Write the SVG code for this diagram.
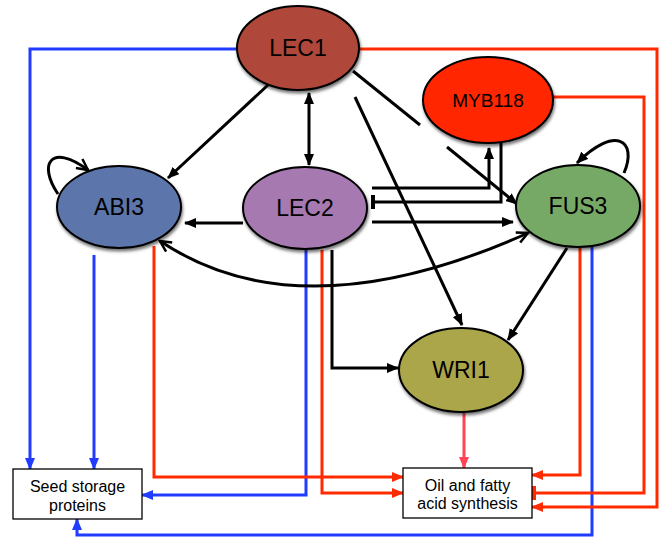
<svg xmlns="http://www.w3.org/2000/svg" width="665" height="537" viewBox="0 0 665 537">
<style>
.k{fill:none;stroke:#000;stroke-width:3}
.b{fill:none;stroke:#1f3cff;stroke-width:3}
.r{fill:none;stroke:#ff2a00;stroke-width:3}
.p{fill:none;stroke:#ff4455;stroke-width:3}
.node{stroke:#000;stroke-width:2;filter:url(#sh)}
.nt{font-family:"Liberation Sans",Arial,sans-serif;font-size:23px;text-anchor:middle;fill:#000}
.bx{fill:#fff;stroke:#000;stroke-width:1.3}
.bt{font-family:"Liberation Sans",Arial,sans-serif;font-size:16px;text-anchor:middle;fill:#000}
</style>
<defs>
<filter id="sh" x="-20%" y="-20%" width="140%" height="150%">
<feDropShadow dx="1" dy="2.5" stdDeviation="1.5" flood-color="#000" flood-opacity="0.55"/>
</filter>
<marker id="ak" viewBox="0 0 12 10" refX="11" refY="5" markerWidth="12" markerHeight="10" markerUnits="userSpaceOnUse" orient="auto-start-reverse"><path d="M0,0 L12,5 L0,10 z" fill="#000"/></marker>
<marker id="ab" viewBox="0 0 12 10" refX="11" refY="5" markerWidth="12" markerHeight="10" markerUnits="userSpaceOnUse" orient="auto"><path d="M0,0 L12,5 L0,10 z" fill="#1f3cff"/></marker>
<marker id="ar" viewBox="0 0 12 10" refX="11" refY="5" markerWidth="12" markerHeight="10" markerUnits="userSpaceOnUse" orient="auto"><path d="M0,0 L12,5 L0,10 z" fill="#ff2a00"/></marker>
<marker id="ap" viewBox="0 0 12 10" refX="11" refY="5" markerWidth="12" markerHeight="10" markerUnits="userSpaceOnUse" orient="auto"><path d="M0,0 L12,5 L0,10 z" fill="#ff4455"/></marker>
<marker id="av" viewBox="0 0 14 14" refX="12" refY="7" markerWidth="14" markerHeight="14" markerUnits="userSpaceOnUse" orient="auto-start-reverse"><path d="M1,1.5 L12,7 L1,12.5" fill="none" stroke="#000" stroke-width="2.5"/></marker>
<marker id="tk" viewBox="0 0 4 14" refX="2" refY="7" markerWidth="4" markerHeight="14" markerUnits="userSpaceOnUse" orient="auto"><rect width="4" height="14" fill="#000"/></marker>
<marker id="tr" viewBox="0 0 4 14" refX="2" refY="7" markerWidth="4" markerHeight="14" markerUnits="userSpaceOnUse" orient="auto"><rect width="4" height="14" fill="#ff2a00"/></marker>
</defs>
<rect width="665" height="537" fill="#fff"/>
<g id="connectors">
<path class="b" d="M237,49 H30 V469" marker-end="url(#ab)"/>
<path class="b" d="M94,255 V469" marker-end="url(#ab)"/>
<path class="b" d="M306,250 V495 H142" marker-end="url(#ab)"/>
<path class="b" d="M592,245 V535 H77 V519" marker-end="url(#ab)"/>
<path class="r" d="M359,49 H657 V507 H532" marker-end="url(#ar)"/>
<path class="r" d="M553,97 H644 V493 H534" marker-end="url(#tr)"/>
<path class="r" d="M580,248 V475 H532" marker-end="url(#ar)"/>
<path class="r" d="M154,246 V477 H403" marker-end="url(#ar)"/>
<path class="r" d="M322,250 V493 H403" marker-end="url(#ar)"/>
<path class="p" d="M464,413 V468" marker-end="url(#ap)"/>
<path class="k" d="M268,85 L168,178" marker-end="url(#ak)"/>
<path class="k" d="M309,93 V165" marker-start="url(#ak)" marker-end="url(#ak)"/>
<path class="k" d="M353,71 L420,125"/>
<path class="k" d="M447,147 L517,204" marker-end="url(#ak)"/>
<path class="k" d="M355,97 L462,325" marker-end="url(#ak)"/>
<path class="k" d="M372,188 H489 V148" marker-end="url(#ak)"/>
<path class="k" d="M501,143 V202 H373" marker-end="url(#tk)"/>
<path class="k" d="M372,222 H513" marker-end="url(#ak)"/>
<path class="k" d="M243,223 H185" marker-end="url(#ak)"/>
<path class="k" d="M160,241 Q300,335 528,233" marker-start="url(#av)" marker-end="url(#av)"/>
<path class="k" d="M332,250 V368 H398" marker-end="url(#ak)"/>
<path class="k" d="M567,248 L508,340" marker-end="url(#ak)"/>
<path class="k" d="M58,194 C38,165 50,142 88,170" marker-end="url(#av)"/>
<path class="k" d="M624,173 C638,140 615,125 577,163" marker-end="url(#ak)"/>
</g>
<g id="LEC1"><ellipse class="node" cx="298" cy="48" rx="61" ry="42" fill="#b0473a"/><text class="nt" x="298" y="56">LEC1</text></g>
<g id="MYB118"><ellipse class="node" cx="488" cy="100" rx="65" ry="43" fill="#ff2600"/><text class="nt" x="488" y="107" style="font-size:19px">MYB118</text></g>
<g id="ABI3"><ellipse class="node" cx="119" cy="207" rx="62" ry="41" fill="#5b75aa"/><text class="nt" x="119" y="215">ABI3</text></g>
<g id="LEC2"><ellipse class="node" cx="305" cy="208" rx="62" ry="41" fill="#a679b0"/><text class="nt" x="305" y="216">LEC2</text></g>
<g id="FUS3"><ellipse class="node" cx="578" cy="206" rx="62" ry="41" fill="#76a866"/><text class="nt" x="578" y="214">FUS3</text></g>
<g id="WRI1"><ellipse class="node" cx="461" cy="370" rx="62" ry="42" fill="#aaa64a"/><text class="nt" x="461" y="378">WRI1</text></g>
<g id="seed"><rect class="bx" x="13" y="469" width="129" height="50"/><text class="bt" x="77.5" y="492">Seed storage</text><text class="bt" x="77.5" y="511">proteins</text></g>
<g id="oil"><rect class="bx" x="403" y="468" width="129" height="50"/><text class="bt" x="467.5" y="491">Oil and fatty</text><text class="bt" x="467.5" y="509">acid synthesis</text></g>
</svg>
